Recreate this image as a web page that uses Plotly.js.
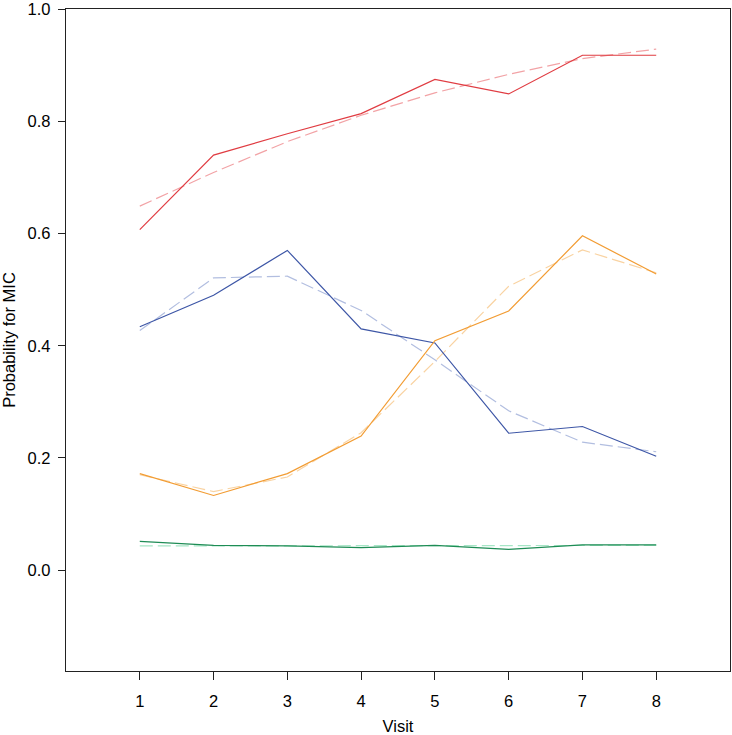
<!DOCTYPE html>
<html>
<head>
<meta charset="utf-8">
<script src="https://cdn.plot.ly/plotly-3.0.1.min.js"></script>
<style>html,body{margin:0;padding:0;background:#fff;}#chart{width:732px;height:735px;}</style>
</head>
<body>
<div id="chart"></div>
<script>
const visits = [1, 2, 3, 4, 5, 6, 7, 8];

const redObserved    = [0.607, 0.740, 0.778, 0.814, 0.875, 0.849, 0.918, 0.918];
const redFitted      = [0.649, 0.709, 0.764, 0.811, 0.851, 0.884, 0.912, 0.929];
const blueObserved   = [0.434, 0.490, 0.570, 0.430, 0.405, 0.244, 0.256, 0.203];
const blueFitted     = [0.427, 0.521, 0.524, 0.463, 0.375, 0.284, 0.228, 0.211];
const orangeObserved = [0.172, 0.133, 0.172, 0.239, 0.409, 0.462, 0.596, 0.528];
const orangeFitted   = [0.170, 0.140, 0.166, 0.245, 0.372, 0.506, 0.571, 0.530];
const greenObserved  = [0.051, 0.044, 0.043, 0.040, 0.044, 0.037, 0.045, 0.045];
const greenFitted    = [0.043, 0.043, 0.043, 0.043, 0.044, 0.044, 0.044, 0.044];

const yTicks = [0.0, 0.2, 0.4, 0.6, 0.8, 1.0];
const yTickText = ["0.0", "0.2", "0.4", "0.6", "0.8", "1.0"];

const dashStyle = "13px,5px";
function line(y, color, dashed) {
  return {
    x: visits, y: y, type: "scatter", mode: "lines",
    line: {color: color, width: 1.2, dash: dashed ? dashStyle : "solid"},
    hoverinfo: "skip", showlegend: false
  };
}

const traces = [
  line(redFitted, "#f2a3a6", true),
  line(blueFitted, "#b2bee0", true),
  line(orangeFitted, "#f9d3a2", true),
  line(greenFitted, "#a6e6c6", true),
  line(redObserved, "#e03c42", false),
  line(blueObserved, "#3d56a6", false),
  line(orangeObserved, "#f29c33", false),
  line(greenObserved, "#1e8c55", false)
];

const font = {family: "Liberation Sans, Arial, sans-serif", size: 16.5, color: "#000"};

const layout = {
  width: 732, height: 735,
  margin: {l: 66, r: 2, t: 9, b: 64, pad: 0},
  paper_bgcolor: "#fff", plot_bgcolor: "#fff",
  font: font,
  showlegend: false,
  xaxis: {
    range: [0, 9], tickvals: visits, ticktext: visits.map(String),
    showgrid: false, zeroline: false,
    showline: true, mirror: true, linecolor: "#222", linewidth: 1.2,
    ticks: "outside", ticklen: 8, tickcolor: "#222", tickwidth: 1,
    ticklabelstandoff: 7,
    title: {text: "Visit", font: font, standoff: 12}
  },
  yaxis: {
    range: [-0.18, 1.0005], tickvals: yTicks, ticktext: yTickText,
    showgrid: false, zeroline: false,
    showline: true, mirror: true, linecolor: "#222", linewidth: 1.2,
    ticks: "outside", ticklen: 7, tickcolor: "#222", tickwidth: 1,
    ticklabelstandoff: 4, ticklabeloverflow: "allow",
    title: {text: "Probability for MIC", font: font, standoff: 8}
  }
};

Plotly.newPlot("chart", traces, layout, {displayModeBar: false, staticPlot: true});
</script>
</body>
</html>
